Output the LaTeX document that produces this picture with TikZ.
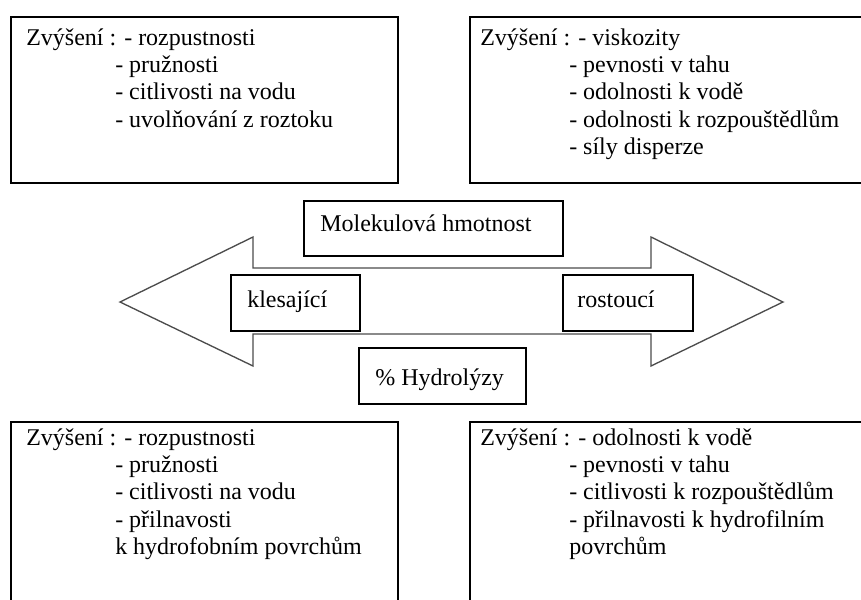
\documentclass[tikz,border=0pt]{standalone}
\usepackage{fontspec}
\setmainfont{Liberation Serif}
\begin{document}
\begin{tikzpicture}[x=0.75pt,y=-0.75pt,
  box/.style={draw=black, line width=1.5pt, fill=white, inner sep=0pt, anchor=north west},
  txt/.style={anchor=base west, inner sep=0pt, font=\fontsize{18}{20.6}\selectfont},
  arrowline/.style={draw=black!70, line width=1pt, fill=white, line join=miter}]
\useasboundingbox (0,0) rectangle (861,600);
\clip (0,0) rectangle (861,600);
\newcommand{\ind}{\hspace*{66.75pt}}
% big boxes
\node[box, minimum width=290.25pt, minimum height=124.5pt] (tl) at (10,16) {};
\node[box, minimum width=307.5pt, minimum height=124.5pt] (tr) at (469,16) {};
\node[box, minimum width=290.25pt, minimum height=150pt] (bl) at (10,421) {};
\node[box, minimum width=307.5pt, minimum height=150pt] (br) at (469,421) {};
\node[txt] (tltext) at (26,45) {\begin{tabular}[t]{@{}l@{}}Zvýšení : - rozpustnosti\\ \ind- pružnosti\\ \ind- citlivosti na vodu\\ \ind- uvolňování z roztoku\end{tabular}};
\node[txt] (trtext) at (480,45) {\begin{tabular}[t]{@{}l@{}}Zvýšení : - viskozity\\ \ind- pevnosti v tahu\\ \ind- odolnosti k vodě\\ \ind- odolnosti k rozpouštědlům\\ \ind- síly disperze\end{tabular}};
\node[txt] (bltext) at (26,445) {\begin{tabular}[t]{@{}l@{}}Zvýšení : - rozpustnosti\\ \ind- pružnosti\\ \ind- citlivosti na vodu\\ \ind- přilnavosti\\ \ind k hydrofobním povrchům\end{tabular}};
\node[txt] (brtext) at (480,445) {\begin{tabular}[t]{@{}l@{}}Zvýšení : - odolnosti k vodě\\ \ind- pevnosti v tahu\\ \ind- citlivosti k rozpouštědlům\\ \ind- přilnavosti k hydrofilním\\ \ind povrchům\end{tabular}};
% double arrow
\draw[arrowline] (120,302) -- (253,237) -- (253,268) -- (651,268) -- (651,237) -- (783,302)
  -- (651,366) -- (651,334) -- (253,334) -- (253,366) -- cycle;
% small boxes
\node[box, minimum width=194.25pt, minimum height=41.25pt] (mh) at (303,200) {};
\node[txt] (mhtext) at (320,231) {Molekulová hmotnost};
\node[box, minimum width=96.75pt, minimum height=42pt] (kl) at (230,274) {};
\node[txt] (kltext) at (247,307) {klesající};
\node[box, minimum width=97.5pt, minimum height=42pt] (ro) at (562,274) {};
\node[txt] (rotext) at (577,307) {rostoucí};
\node[box, minimum width=125.25pt, minimum height=42pt] (hy) at (358,347) {};
\node[txt] (hytext) at (375,385) {\% Hydrolýzy};
\end{tikzpicture}
\end{document}
